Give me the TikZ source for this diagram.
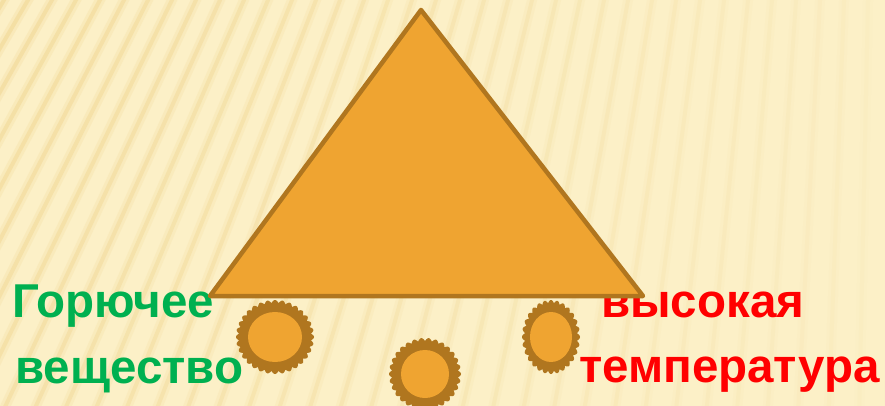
\documentclass[tikz,border=0pt]{standalone}
\usepackage{fontspec}
\setmainfont{Liberation Sans}
\usepackage{tikz}
\usetikzlibrary{positioning,calc}
\definecolor{paperCream}{RGB}{252,240,199}
\definecolor{stripeSand}{RGB}{238,208,132}
\definecolor{flameOrange}{RGB}{239,164,49}
\definecolor{rimBrown}{RGB}{176,118,31}
\definecolor{fuelGreen}{RGB}{0,176,80}
\definecolor{heatRed}{RGB}{255,0,0}

\begin{document}
\begin{tikzpicture}[x=1pt, y=-1pt, line join=round,
    bigword/.style={font=\fontsize{47.5}{56}\selectfont\bfseries, inner sep=0pt, anchor=base west},
    stripe/.style={stripeSand, line cap=round}]
    \useasboundingbox (0,0) rectangle (885,406);
    \begin{scope}
        \clip (0,0) rectangle (885,406);
        \fill [paperCream] (0,0) rectangle (885,406);
        % fanned stripes, fading to the right
        \coordinate (focus) at (900,-1500);
        \foreach \s in {-20,4,...,900} {
            \pgfmathsetmacro\op{max(0.04,0.5-0.45*\s/900)}
            \draw [stripe, line width=10pt, opacity=\op*0.4] (focus) -- ($(focus)!2300pt!(\s,0)$);
            \draw [stripe, line width=4pt, opacity=\op*0.8] (focus) -- ($(focus)!2300pt!(\s,0)$);
        }
        % three scalloped discs
        \foreach \cx/\cy/\rx/\ry/\ix/\iy/\n in {275/337/36/34/27/25/32, 425/374/33/33/24/24/30, 551/337/26/34/21/25/28} {
            \fill [rimBrown] plot [domain=0:359.5, samples=720]
                ({\cx+(\rx+3*abs(cos(\n*\x/2)))*cos(\x)}, {\cy+(\ry+3*abs(cos(\n*\x/2)))*sin(\x)}) -- cycle;
            \fill [flameOrange] (\cx,\cy) ellipse [x radius=\ix, y radius=\iy];
        }
    \end{scope}

    \node [bigword, text=fuelGreen] (fuel) at (12,317) {Горючее};
    \node [bigword, text=fuelGreen] (fuel2) at (15,383) {вещество};
    \node [bigword, text=heatRed] (heat) at (601,317) {высокая};
    \node [bigword, text=heatRed] (heat2) at (579,382) {температура};

    \coordinate (apex) at (421,10);
    \coordinate (baseL) at (210,296);
    \coordinate (baseR) at (643,296);
    \draw [rimBrown, fill=flameOrange, line width=4.5pt] (apex) -- (baseR) -- (baseL) -- cycle;
\end{tikzpicture}
\end{document}
